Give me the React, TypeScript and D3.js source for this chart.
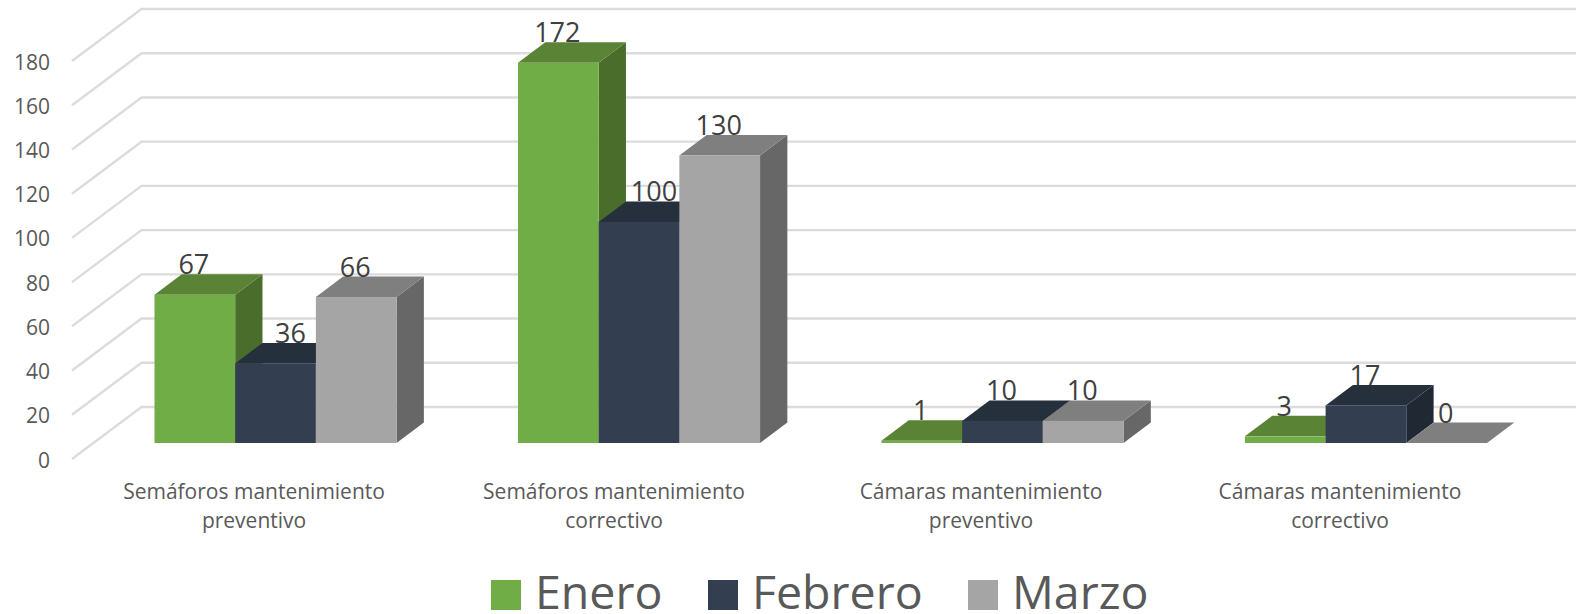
import React from "react";
import * as d3 from "d3";

const W = 1576;
const H = 614;
const FONT = "'Open Sans', sans-serif";

const categories = [
  ["Semáforos mantenimiento", "preventivo"],
  ["Semáforos mantenimiento", "correctivo"],
  ["Cámaras mantenimiento", "preventivo"],
  ["Cámaras mantenimiento", "correctivo"],
];
const seriesNames = ["Enero", "Febrero", "Marzo"];
const enero = [67, 172, 1, 3];
const febrero = [36, 100, 10, 17];
const marzo = [66, 130, 10, 0];
const seriesValues = [enero, febrero, marzo];
const tickValues = [0, 20, 40, 60, 80, 100, 120, 140, 160, 180];

const frontColors = ["#70AD47", "#333F50", "#A5A5A5"];
const topColors = ["#5A8336", "#262F3C", "#7F7F7F"];
const sideColors = ["#4A6D2C", "#1F2833", "#676767"];

const y = d3.scaleLinear().domain([0, 180]).range([459, 61]);
const x0 = d3.scaleBand<number>().domain([0, 1, 2, 3]).range([154.5, 1487]).paddingInner(0.334).paddingOuter(0);
const x1 = d3.scaleBand<number>().domain([0, 1, 2]).range([0, x0.bandwidth()]);

const FLOOR_DX = 69.5;
const FLOOR_DY = 52;
const BAR_LIFT = 16;
const DEPTH_X = 27.3;
const DEPTH_Y = 20.5;
const labelShift = [-21.5, -25, -21.5, -26];
// Febrero labels of the first two groups sit to the right of their bars in the reference
const febreroLabelNudge = [16, 16, 0, 0];

const poly = (pts: [number, number][]) => pts.map((p) => p.join(",")).join(" ");

export default function App() {
  return (
    <svg width={W} height={H} viewBox={`0 0 ${W} ${H}`} style={{ position: "absolute", left: 0, top: 0, background: "#fff" }} fontFamily={FONT}>
      {tickValues.map((t) => (
        <g key={t}>
          <polyline
            points={poly([[72, y(t)], [72 + FLOOR_DX, y(t) - FLOOR_DY], [W, y(t) - FLOOR_DY]])}
            fill="none"
            stroke="#DCDCDC"
            strokeWidth={2.4}
          />
          <text x={50} y={y(t) + 8.5} textAnchor="end" fontSize={21} fill="#595959">{t}</text>
        </g>
      ))}
      {categories.map((_, c) =>
        seriesValues.map((vals, s) => {
          const v = vals[c];
          const xl = (x0(c) as number) + (x1(s) as number);
          const xr = xl + x1.bandwidth();
          const base = y(0) - BAR_LIFT;
          const top = y(v) - BAR_LIFT;
          return (
            <g key={`${c}-${s}`}>
              <polygon points={poly([[xr, base], [xr + DEPTH_X, base - DEPTH_Y], [xr + DEPTH_X, top - DEPTH_Y], [xr, top]])} fill={sideColors[s]} />
              <polygon points={poly([[xl, top], [xl + DEPTH_X, top - DEPTH_Y], [xr + DEPTH_X, top - DEPTH_Y], [xr, top]])} fill={topColors[s]} />
              <rect x={xl} y={top} width={x1.bandwidth()} height={base - top} fill={frontColors[s]} />
            </g>
          );
        })
      )}
      {categories.map((_, c) =>
        seriesValues.map((vals, s) => {
          const v = vals[c];
          const xl = (x0(c) as number) + (x1(s) as number);
          const nudge = s === 1 ? febreroLabelNudge[c] : 0;
          return (
            <text key={`l${c}-${s}`} x={xl + x1.bandwidth() / 2 - 1 + nudge} y={y(v) - BAR_LIFT - DEPTH_Y} textAnchor="middle" fontSize={27} fill="#404040">{v}</text>
          );
        })
      )}
      {categories.map((lines, c) => {
        const cx = (x0(c) as number) + x0.bandwidth() / 2 + labelShift[c];
        return lines.map((line, i) => (
          <text key={`c${c}-${i}`} x={cx} y={498.5 + i * 29} textAnchor="middle" fontSize={21} fill="#595959">{line}</text>
        ));
      })}
      {seriesNames.map((name, i) => {
        const sx = [491, 708, 968][i];
        return (
          <g key={name}>
            <rect x={sx} y={580} width={30} height={30} fill={frontColors[i]} />
            <text x={sx + 44} y={609} fontSize={46.5} fill="#595959">{name}</text>
          </g>
        );
      })}
    </svg>
  );
}
